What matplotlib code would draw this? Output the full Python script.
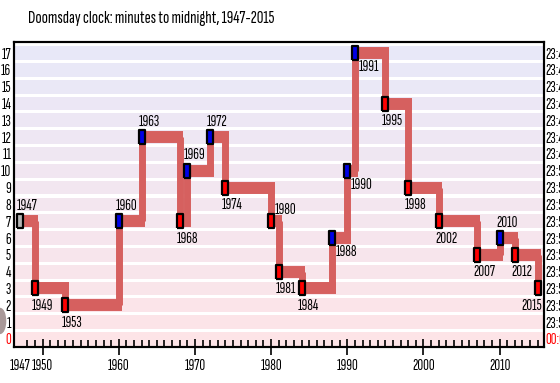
import matplotlib
matplotlib.use('Agg')
import matplotlib.pyplot as plt
from matplotlib.ticker import MultipleLocator, FixedLocator
from matplotlib.colors import to_rgb
from matplotlib.patches import Ellipse

plt.rcParams['font.family'] = ['Sofia Sans Extra Condensed', 'DejaVu Sans']

# Doomsday clock settings (minutes to midnight)
years = [1947, 1949, 1953, 1960, 1963, 1968, 1969, 1972, 1974, 1980, 1981,
         1984, 1988, 1990, 1991, 1995, 1998, 2002, 2007, 2010, 2012, 2015]
minutes = [7, 3, 2, 7, 12, 7, 10, 12, 9, 7, 4, 3, 6, 10, 17, 14, 9, 7, 5, 6, 5, 3]

# where the year label goes: a = above, ar = above right, b = below,
# br = below right, bl = below, right aligned
label_side = ['a', 'b', 'b', 'a', 'a', 'b', 'a', 'a', 'b', 'ar', 'b',
              'b', 'br', 'br', 'br', 'b', 'b', 'b', 'b', 'a', 'b', 'bl']

left_labels = [str(m) for m in range(18)]
right_labels = ['00:00'] + ['23:%02d' % (60 - m) for m in range(1, 18)]
xtick_years = [1947, 1950, 1960, 1970, 1980, 1990, 2000, 2010]

line_col = '#d6605f'
band_bottom = to_rgb('#fde4e7')
band_top = to_rgb('#e8e8f8')
fs = 11.5

fig = plt.figure(figsize=(5.6, 3.83), dpi=100)
ax = fig.add_axes([0.025, 0.094, 0.946, 0.796])
ax.set_xlim(1946.24, 2015.8)
ax.set_ylim(-0.48, 17.65)

# background bands, pink at the bottom fading into lavender at the top
for k in range(18):
    t = k / 17
    c = tuple(band_bottom[j] * (1 - t) + band_top[j] * t for j in range(3))
    ax.axhspan(k - 0.41, k + 0.41, color=c, lw=0, zorder=0)

# step line: horizontals thicker than verticals
hlw, vlw = 8.6, 5.0   # points
fig.canvas.draw()
bbox = ax.get_window_extent()
px_per_year = bbox.width / (ax.get_xlim()[1] - ax.get_xlim()[0])
dx = 0.5 * vlw * fig.dpi / 72 / px_per_year

for i in range(len(years) - 1):
    ax.hlines(minutes[i], years[i], years[i + 1] + dx, color=line_col,
              lw=hlw, capstyle='butt', zorder=2)
    ax.vlines(years[i + 1], minutes[i], minutes[i + 1], color=line_col,
              lw=vlw, capstyle='butt', zorder=2)

# markers: grey for the first, red when moved closer, blue when moved back
rect = [(-0.23, -0.5), (0.23, -0.5), (0.23, 0.5), (-0.23, 0.5), (-0.23, -0.5)]
offsets = {'a': ((-2.5, 6), 'left', 'bottom'),
           'ar': ((2.5, 3), 'left', 'bottom'),
           'b': ((-2.5, -7.5), 'left', 'top'),
           'br': ((2.5, -5), 'left', 'top'),
           'bl': ((3, -7.5), 'right', 'top')}
for i, (yr, m) in enumerate(zip(years, minutes)):
    if i == 0:
        fc = '#b4b4b4'
    elif m < minutes[i - 1]:
        fc = '#ff0000'
    else:
        fc = '#0000e6'
    ax.plot(yr, m, marker=rect, ms=9.8, mfc=fc, mec='black', mew=1.6,
            ls='none', zorder=4)

    off, ha, va = offsets[label_side[i]]
    ax.annotate(str(yr), (yr, m), xytext=off, textcoords='offset points',
                ha=ha, va=va, fontsize=fs, zorder=5)

# x axis
ax.xaxis.set_major_locator(FixedLocator(xtick_years))
ax.xaxis.set_minor_locator(MultipleLocator(1))
ax.set_xticklabels([str(y) for y in xtick_years], fontsize=fs)
ax.tick_params(axis='x', which='major', direction='inout', length=12, width=1.2, pad=3)
ax.tick_params(axis='x', which='minor', direction='in', length=5, width=1.2)
ax.xaxis.get_major_ticks()[0].tick1line.set_visible(False)

# left y axis
ax.set_yticks(range(18))
ax.set_yticklabels(left_labels, fontsize=fs)
ax.tick_params(axis='y', length=0, pad=2)
ax.get_yticklabels()[0].set_color('red')

# right y axis with clock times
ax2 = ax.twinx()
ax2.set_ylim(ax.get_ylim())
ax2.set_yticks(range(18))
ax2.set_yticklabels(right_labels, fontsize=fs)
ax2.tick_params(axis='y', length=0, pad=1)
ax2.get_yticklabels()[0].set_color('red')
ax2.get_yticklabels()[0].set_fontweight('bold')

for a in (ax, ax2):
    for sp in a.spines.values():
        sp.set_linewidth(1.5)
        sp.set_color('black')

fig.text(0.05, 0.953, 'Doomsday clock: minutes to midnight, 1947-2015',
         fontsize=13.2, ha='left', va='center')

# clipped grey clock icon at the far left
fig.patches.append(Ellipse((0.0, 0.162), 0.02, 0.065, transform=fig.transFigure,
                           color='#a89898', zorder=0))

fig.savefig('out.png', dpi=100)
